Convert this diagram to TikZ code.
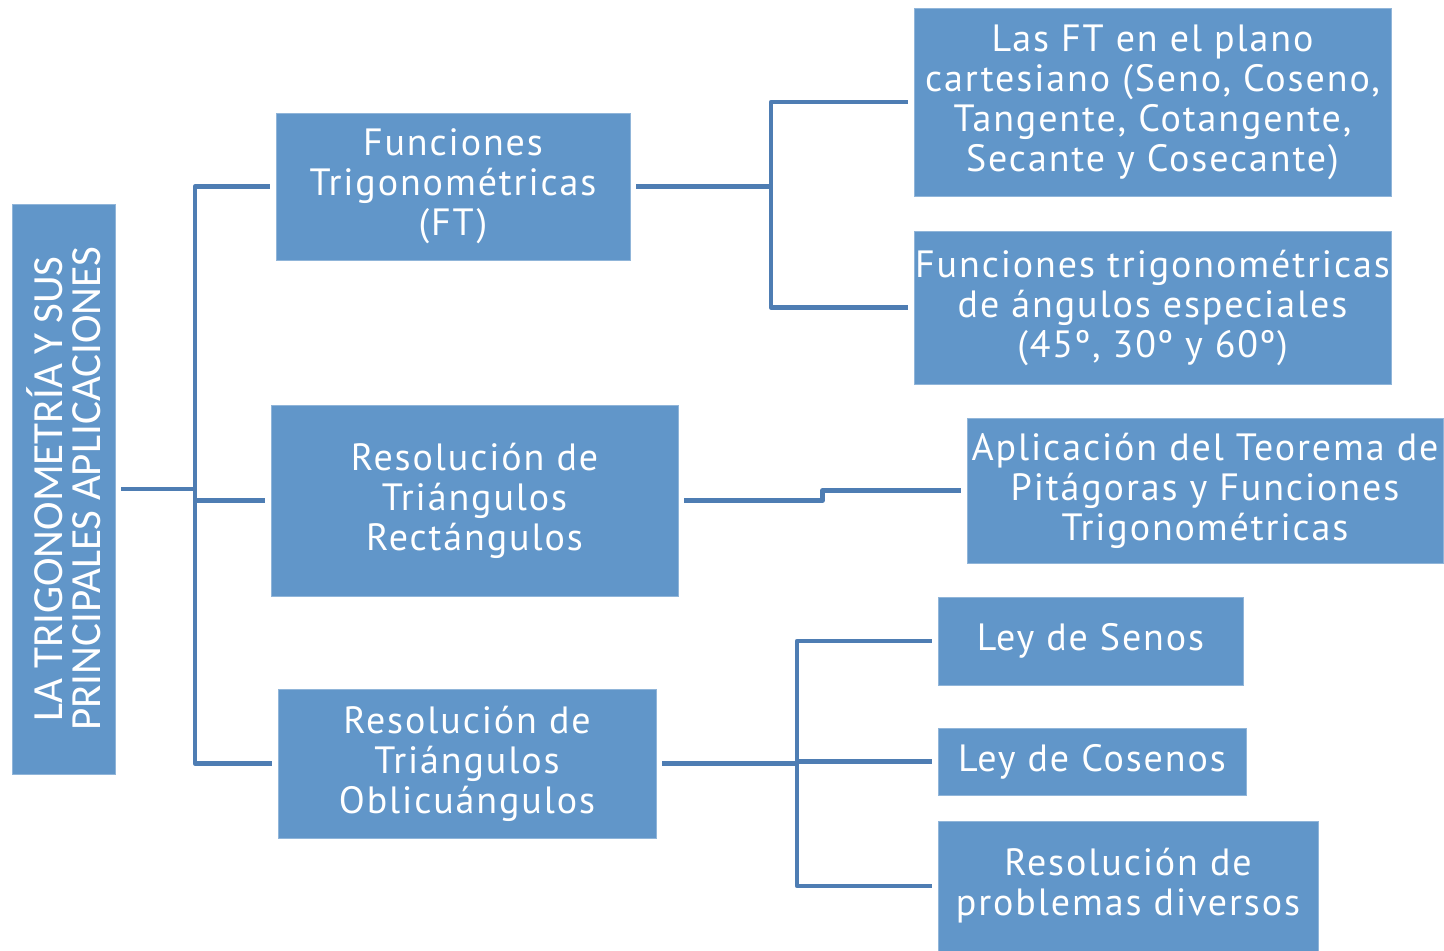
\documentclass[tikz,border=0pt]{standalone}
\usepackage{fontspec}
\setmainfont[LetterSpace=5]{PT Sans}
\newfontfamily\rootfont{Carlito}
\definecolor{boxblue}{HTML}{6196C9}
\definecolor{lineblue}{HTML}{4E7DB3}
\begin{document}
\begin{tikzpicture}[x=1pt,y=-1pt,
  box/.style={fill=boxblue,draw=boxblue!70!white,line width=0.8pt,text=white,align=center,inner sep=0pt,
    font=\fontsize{38}{40}\selectfont},
  conn/.style={draw=lineblue,line width=4.5pt,line join=round}]
\useasboundingbox (0,0) rectangle (1444,951);
% root
\node[box,minimum width=103,minimum height=570,
  label={[rotate=90,text=white,align=center,font=\rootfont\fontsize{43}{38}\selectfont]center:LA TRIGONOMETRÍA Y SUS\\PRINCIPALES APLICACIONES}]
  (root) at (63.5,489) {};
% level 1
\node[box,minimum width=354,minimum height=147] (ft) at (453,186.5) {Funciones\\Trigonométricas\\(FT)};
\node[box,minimum width=407,minimum height=191] (rtr) at (474.5,500.5) {Resolución de\\Triángulos\\Rectángulos};
\node[box,minimum width=378,minimum height=149] (rto) at (467,763.5) {Resolución de\\Triángulos\\Oblicuángulos};
% level 2
\node[box,minimum width=477,minimum height=188] (b1) at (1152.5,102) {Las FT en el plano\\cartesiano (Seno, Coseno,\\Tangente, Cotangente,\\Secante y Cosecante)};
\node[box,minimum width=477,minimum height=153] (b2) at (1152.5,307.5) {Funciones trigonométricas\\de ángulos especiales\\(45º, 30º y 60º)};
\node[box,minimum width=476,minimum height=145] (b3) at (1205,490.5) {Aplicación del Teorema de\\Pitágoras y Funciones\\Trigonométricas};
\node[box,minimum width=305,minimum height=88] (senos) at (1090.5,641) {Ley de Senos};
\node[box,minimum width=308,minimum height=67] (cosenos) at (1092,761.5) {Ley de Cosenos};
\node[box,minimum width=380,minimum height=130] (prob) at (1128,886) {Resolución de\\problemas diversos};
% junctions
\coordinate (v1) at (195,489);
\coordinate (v2) at (771,186.5);
\coordinate (v3) at (797,763.5);
% connectors
\draw[conn] ([xshift=6]root.east) -- (v1);
\draw[conn] ([xshift=-6]ft.west) -| (v1);
\draw[conn] ([xshift=-6]rtr.west) -| (v1);
\draw[conn] ([xshift=-6]rto.west) -| (v1);
\draw[conn] ([xshift=6]ft.east) -- (v2);
\draw[conn] ([xshift=-6]b1.west) -| (v2);
\draw[conn] ([xshift=-6]b2.west) -| (v2);
\draw[conn] ([xshift=6]rtr.east) -- ++(138,0) |- ([xshift=-6]b3.west);
\draw[conn] ([xshift=6]rto.east) -- (v3);
\draw[conn] ([xshift=-6]senos.west) -| (v3);
\draw[conn] ([xshift=-6]cosenos.west) -| (v3);
\draw[conn] ([xshift=-6]prob.west) -| (v3);
\end{tikzpicture}
\end{document}
